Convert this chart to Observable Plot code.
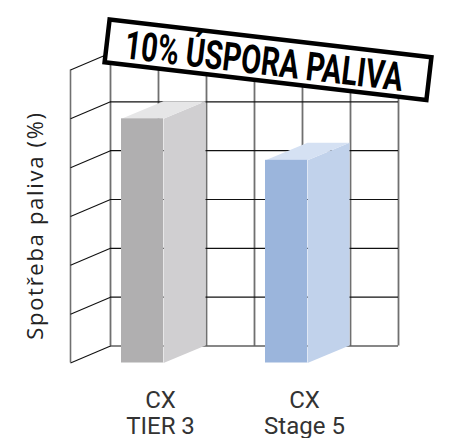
<!DOCTYPE html>
<html><head><meta charset="utf-8">
<script src="https://cdn.jsdelivr.net/npm/d3@7"></script>
<script src="https://cdn.jsdelivr.net/npm/@observablehq/plot@0.6"></script>
<style>
html,body{margin:0;padding:0;background:#fff;}
#chart svg{display:block;}
</style></head><body><div id="chart"></div>
<script>
// ---- data ----
const categories = ["CX\nTIER 3", "CX\nStage 5"];
const values = [5.0, 4.15];          // in grid units (each grid row = 1)
const slots = [1.5, 4.5];            // bar centre along the floor, in grid cells
const frontColors = ["#b0afb0", "#9bb5dc"];
const sideColors = ["#d0cfd1", "#c1d2eb"];
const topColors = ["#e6e6e7", "#d5e1f3"];
const gridLevels = [0, 1, 2, 3, 4, 5, 6];
const gridColumns = [0, 1, 2, 3, 4, 5, 6];
const yLabel = "Spotřeba paliva (%)";
const bannerText = "10% ÚSPORA PALIVA";

// ---- layout ----
const W = 455, H = 438;
const mL = 70, mR = 97, mT = 69.5, mB = 75.5;
const pxX = (W - mL - mR) / 6, pxY = (H - mT - mB) / 6;
const WDX = 40 / pxX, WDY = 17 / pxY;              // wall depth
const BW = 42 / pxX, BDX = 42 / pxX, BDY = 17.5 / pxY; // bar width & depth

const bars = categories.map((c, i) => ({
  i, category: c, value: values[i],
  x1: slots[i] - BW / 2, x2: slots[i] + BW / 2,
  front: frontColors[i], side: sideColors[i], top: topColors[i]
}));
const sidePts = bars.flatMap(b =>
  [[b.x2, 0], [b.x2 + BDX, BDY], [b.x2 + BDX, b.value + BDY], [b.x2, b.value]]
    .map(([x, y]) => ({x, y, z: b.i, fill: b.side})));
const topPts = bars.flatMap(b =>
  [[b.x1, b.value], [b.x2, b.value], [b.x2 + BDX, b.value + BDY], [b.x1 + BDX, b.value + BDY]]
    .map(([x, y]) => ({x, y, z: b.i, fill: b.top})));

const plot = Plot.plot({
  width: W, height: H,
  marginLeft: mL, marginRight: mR, marginTop: mT, marginBottom: mB,
  x: {domain: [0, 6], axis: null},
  y: {domain: [0, 6], axis: null},
  color: {type: "identity"},
  style: {background: "#fff", overflow: "visible"},
  marks: [
    Plot.ruleX(gridColumns, {x: d => d + WDX, y1: WDY, y2: 6 + WDY, stroke: "#707070", strokeWidth: 1.8}),
    Plot.ruleY(gridLevels, {y: d => d + WDY, x1: WDX, x2: 6 + WDX, stroke: "#111", strokeWidth: 1.2}),
    Plot.ruleX([0], {y1: 0, y2: 6, stroke: "#707070", strokeWidth: 1.6}),
    Plot.link(gridLevels, {x1: 0, y1: d => d, x2: WDX, y2: d => d + WDY, stroke: "#111", strokeWidth: 1.1}),
    Plot.line(sidePts, {x: "x", y: "y", z: "z", fill: "fill", stroke: "none"}),
    Plot.line(topPts, {x: "x", y: "y", z: "z", fill: "fill", stroke: "none"}),
    Plot.rect(bars, {x1: "x1", x2: "x2", y1: 0, y2: "value", fill: "front"}),
    Plot.text(bars, {x: b => (b.x1 + b.x2 + BDX) / 2, y: 0, text: "category", dx: -3, dy: 27,
      lineAnchor: "top", lineHeight: 1.08, fontSize: 24, fontFamily: "Roboto", fill: "#333"}),
    Plot.text([yLabel], {frameAnchor: "left", textAnchor: "middle", rotate: -90, dx: -34.5, dy: 9,
      fontSize: 22, fontFamily: "Open Sans", fill: "#222"})
  ]
});
document.getElementById("chart").appendChild(plot);

const svg = d3.select(plot);
svg.selectAll("text").filter(function () { return this.textContent === yLabel; })
  .attr("letter-spacing", 1.7);

// banner, placed relative to the plot scales
const sx = plot.scale("x"), sy = plot.scale("y");
const cx = sx.apply(4.125), cy = sy.apply(6.2);
const g = svg.append("g").attr("transform", `translate(${cx},${cy}) rotate(6.69)`);
g.append("rect").attr("x", -162).attr("y", -21.5).attr("width", 324).attr("height", 43)
  .attr("fill", "#fff").attr("stroke", "#000").attr("stroke-width", 4.5);
g.append("text").attr("x", -4).attr("y", 15.5).attr("text-anchor", "middle")
  .attr("font-family", "Roboto").attr("font-weight", "bold").attr("font-size", 40)
  .attr("textLength", 280).attr("lengthAdjust", "spacingAndGlyphs")
  .attr("fill", "#000").text(bannerText);
</script>
</body></html>
